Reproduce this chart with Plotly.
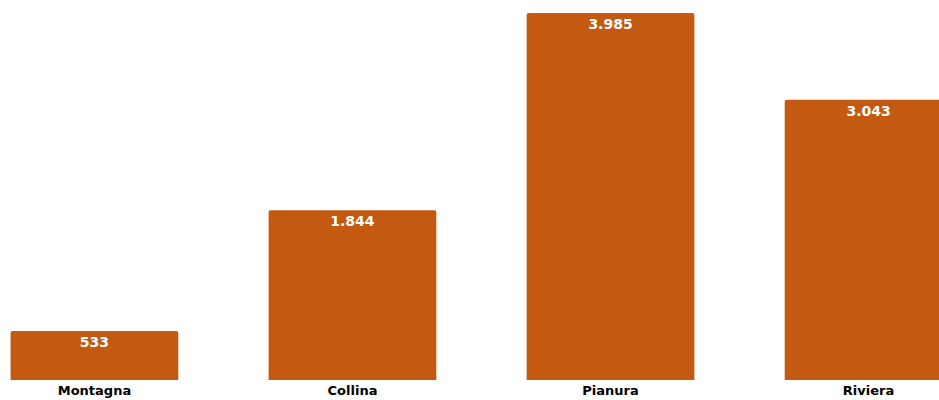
import plotly.graph_objects as go

categories = ["Montagna", "Collina", "Pianura", "Riviera"]
values = [533, 1844, 3985, 3043]
labels = ["533", "1.844", "3.985", "3.043"]

fig = go.Figure(go.Bar(
    x=categories, y=values, text=labels,
    textposition="inside", insidetextanchor="end",
    textfont=dict(family="DejaVu Sans", size=14, color="white", weight="bold"),
    marker=dict(color="#C45A11", line=dict(width=0)),
    marker_cornerradius=2,
    cliponaxis=True,
    hoverinfo="skip",
))

fig.update_layout(
    width=939, height=400,
    margin=dict(l=0, r=0, t=0, b=20, autoexpand=False),
    paper_bgcolor="white", plot_bgcolor="white",
    bargap=0.35,
    showlegend=False,
    separators=",.",
    xaxis=dict(range=[-0.366, 3.273], showgrid=False, zeroline=False, showline=False,
               ticks="", ticklabelstandoff=1, automargin=False,
               tickfont=dict(family="DejaVu Sans", size=13, color="black", weight="bold")),
    yaxis=dict(range=[0, 4126], visible=False, showgrid=False, zeroline=False),
    uniformtext=dict(mode=False),
)

fig.write_html("out.html")
